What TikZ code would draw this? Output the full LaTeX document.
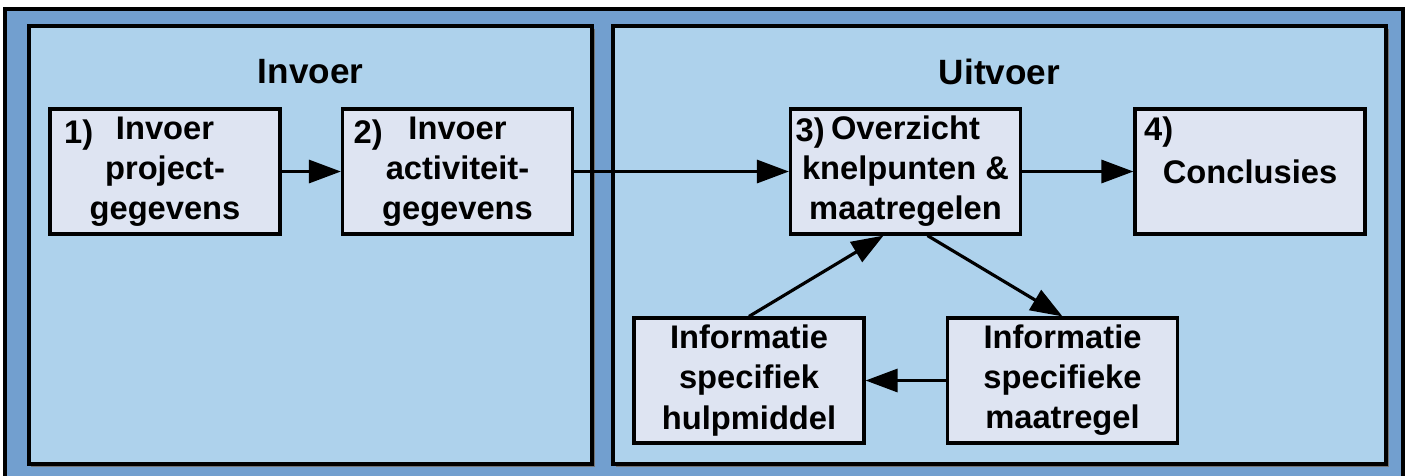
\documentclass[tikz,border=0pt]{standalone}
\usepackage{fontspec}
\setmainfont{Liberation Sans}
\usetikzlibrary{arrows.meta,positioning,shadows}
\definecolor{frameblue}{HTML}{729FCF}
\definecolor{panelblue}{HTML}{AED2EC}
\definecolor{boxgrey}{HTML}{DEE4F2}

\tikzset{
  panel/.style={draw=black, line width=0.9pt, fill=panelblue,
    drop shadow={shadow xshift=0.025cm, shadow yshift=-0.025cm, fill=black!55, opacity=1}},
  paneltitle/.style={inner sep=0pt, font=\bfseries\fontsize{10}{12}\selectfont},
  stepbox/.style={draw=black, line width=0.9pt, fill=boxgrey, minimum width=2.3cm,
    minimum height=1.25cm, align=center, inner sep=0pt,
    font=\bfseries\fontsize{9.3}{11.4}\selectfont},
  numlbl/.style={anchor=north west, inner sep=0pt, font=\bfseries\fontsize{9.3}{11.4}\selectfont},
  flow/.style={line width=0.9pt, -{Triangle[length=0.32cm,width=0.23cm]}},
}

\begin{document}
\begin{tikzpicture}[x=1cm,y=1cm]
    \useasboundingbox (0,0) rectangle (14.06,4.75);
    \clip (0,0) rectangle (14.06,4.75);
    % background frame and the two panels
    \draw[fill=frameblue, line width=1pt] (0.05,-0.2) rectangle (14.03,4.66);
    \draw[panel] (0.29,0.11) rectangle (5.92,4.49);
    \draw[panel] (6.13,0.11) rectangle (13.86,4.49);
    \node[paneltitle] (intitle) at (3.105,4.03) {Invoer};
    \node[paneltitle] (outtitle) at (9.995,4.03) {Uitvoer};
    % steps
    \node[stepbox] (proj) at (1.65,3.035) {Invoer\\project-\\gegevens};
    \node[stepbox] (act) at (4.575,3.035) {Invoer\\activiteit-\\gegevens};
    \node[stepbox] (knel) at (9.055,3.035) {Overzicht\\knelpunten \&\\maatregelen};
    \node[stepbox] (concl) at (12.50,3.035) {Conclusies};
    \node[stepbox] (hulp) at (7.49,0.945) {Informatie\\specifiek\\hulpmiddel};
    \node[stepbox] (maat) at (10.625,0.945) {Informatie\\specifieke\\maatregel};
    \node[numlbl] (n1) at ([xshift=0.15cm,yshift=-0.12cm]proj.north west) {1)};
    \node[numlbl] (n2) at ([xshift=0.12cm,yshift=-0.12cm]act.north west) {2)};
    \node[numlbl] (n3) at ([xshift=0.06cm,yshift=-0.1cm]knel.north west) {3)};
    \node[numlbl] (n4) at ([xshift=0.10cm,yshift=-0.09cm]concl.north west) {4)};
    % connectors
    \draw[flow] (proj) -- (act);
    \draw[flow] (act) -- (knel);
    \draw[flow] (knel) -- (concl);
    \draw[flow] (hulp.north) -- ([xshift=-0.22cm]knel.south);
    \draw[flow] ([xshift=0.22cm]knel.south) -- (maat.north);
    \draw[flow] (maat) -- (hulp);
  \end{tikzpicture}
\end{document}
